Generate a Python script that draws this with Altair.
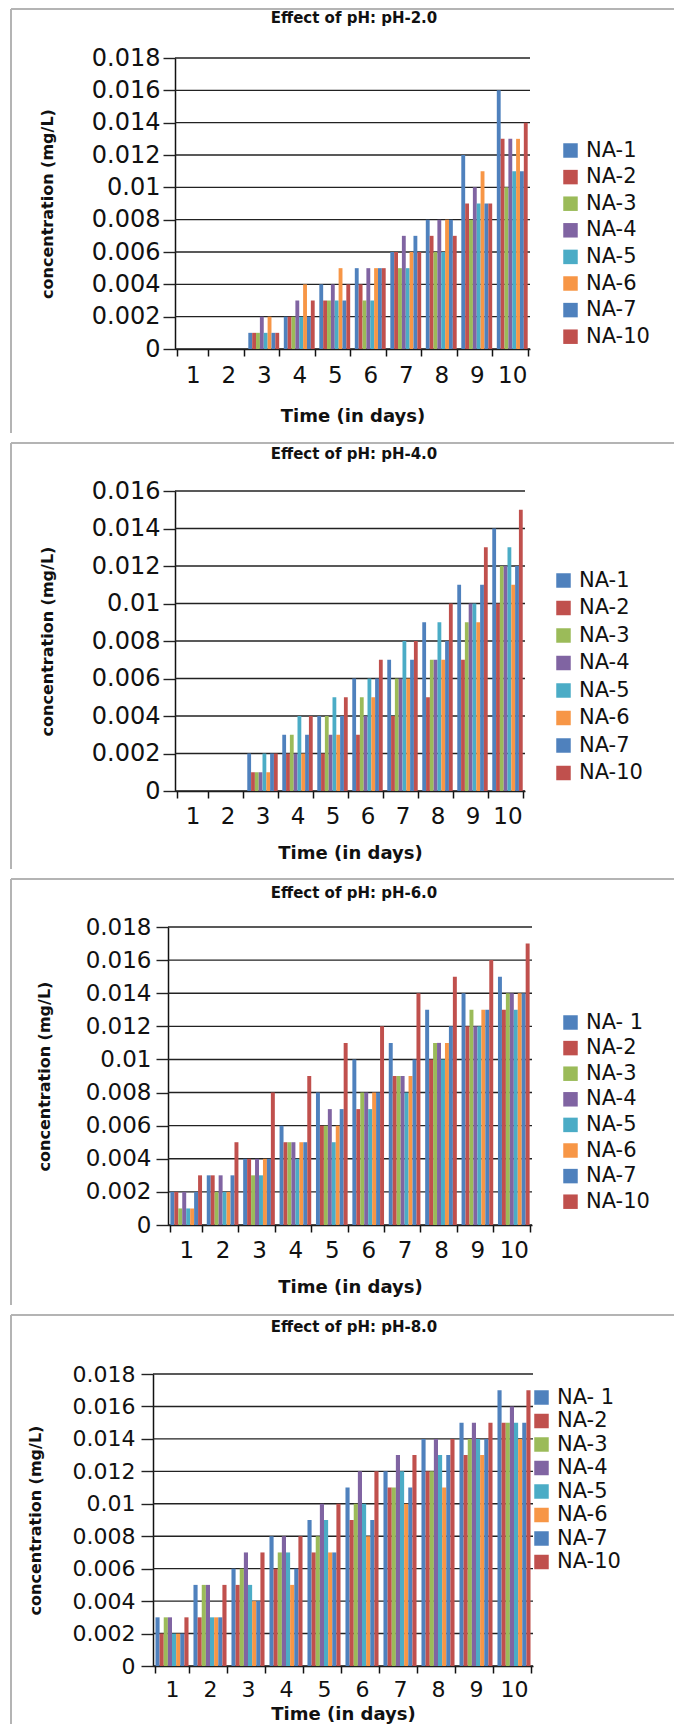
import altair as alt
import pandas as pd

days = [1, 2, 3, 4, 5, 6, 7, 8, 9, 10]
series_a = ["NA-1", "NA-2", "NA-3", "NA-4", "NA-5", "NA-6", "NA-7", "NA-10"]
series_b = ["NA- 1", "NA-2", "NA-3", "NA-4", "NA-5", "NA-6", "NA-7", "NA-10"]
colors = ["#4F81BD", "#C0504D", "#9BBB59", "#8064A2", "#4BACC6", "#F79646", "#4F81BD", "#C0504D"]

# pH-2.0 : one list per series, values for days 1..10
ph2 = [
    [0, 0, 0.001, 0.002, 0.004, 0.005, 0.006, 0.008, 0.012, 0.016],
    [0, 0, 0.001, 0.002, 0.003, 0.004, 0.006, 0.007, 0.009, 0.013],
    [0, 0, 0.001, 0.002, 0.003, 0.003, 0.005, 0.006, 0.008, 0.010],
    [0, 0, 0.002, 0.003, 0.004, 0.005, 0.007, 0.008, 0.010, 0.013],
    [0, 0, 0.001, 0.002, 0.003, 0.003, 0.005, 0.006, 0.009, 0.011],
    [0, 0, 0.002, 0.004, 0.005, 0.005, 0.006, 0.008, 0.011, 0.013],
    [0, 0, 0.001, 0.002, 0.003, 0.005, 0.007, 0.008, 0.009, 0.011],
    [0, 0, 0.001, 0.003, 0.004, 0.005, 0.006, 0.007, 0.009, 0.014],
]
# pH-4.0
ph4 = [
    [0, 0, 0.002, 0.003, 0.004, 0.006, 0.007, 0.009, 0.011, 0.014],
    [0, 0, 0.001, 0.002, 0.002, 0.003, 0.004, 0.005, 0.007, 0.010],
    [0, 0, 0.001, 0.003, 0.004, 0.005, 0.006, 0.007, 0.009, 0.012],
    [0, 0, 0.001, 0.002, 0.003, 0.004, 0.006, 0.007, 0.010, 0.012],
    [0, 0, 0.002, 0.004, 0.005, 0.006, 0.008, 0.009, 0.010, 0.013],
    [0, 0, 0.001, 0.002, 0.003, 0.005, 0.006, 0.007, 0.009, 0.011],
    [0, 0, 0.002, 0.003, 0.004, 0.006, 0.007, 0.008, 0.011, 0.012],
    [0, 0, 0.002, 0.004, 0.005, 0.007, 0.008, 0.010, 0.013, 0.015],
]
# pH-6.0
ph6 = [
    [0.002, 0.003, 0.004, 0.006, 0.008, 0.010, 0.011, 0.013, 0.014, 0.015],
    [0.002, 0.003, 0.004, 0.005, 0.006, 0.007, 0.009, 0.010, 0.012, 0.013],
    [0.001, 0.002, 0.003, 0.005, 0.006, 0.008, 0.009, 0.011, 0.013, 0.014],
    [0.002, 0.003, 0.004, 0.005, 0.007, 0.008, 0.009, 0.011, 0.012, 0.014],
    [0.001, 0.002, 0.003, 0.004, 0.005, 0.007, 0.008, 0.010, 0.012, 0.013],
    [0.001, 0.002, 0.004, 0.005, 0.006, 0.008, 0.009, 0.011, 0.013, 0.014],
    [0.002, 0.003, 0.004, 0.005, 0.007, 0.008, 0.010, 0.012, 0.013, 0.014],
    [0.003, 0.005, 0.008, 0.009, 0.011, 0.012, 0.014, 0.015, 0.016, 0.017],
]
# pH-8.0
ph8 = [
    [0.003, 0.005, 0.006, 0.008, 0.009, 0.011, 0.012, 0.014, 0.015, 0.017],
    [0.002, 0.003, 0.005, 0.006, 0.007, 0.009, 0.011, 0.012, 0.013, 0.015],
    [0.003, 0.005, 0.006, 0.007, 0.008, 0.010, 0.011, 0.012, 0.014, 0.015],
    [0.003, 0.005, 0.007, 0.008, 0.010, 0.012, 0.013, 0.014, 0.015, 0.016],
    [0.002, 0.003, 0.005, 0.007, 0.009, 0.010, 0.012, 0.013, 0.014, 0.015],
    [0.002, 0.003, 0.004, 0.005, 0.007, 0.008, 0.010, 0.011, 0.013, 0.014],
    [0.002, 0.003, 0.004, 0.006, 0.007, 0.009, 0.011, 0.013, 0.014, 0.015],
    [0.003, 0.005, 0.007, 0.008, 0.010, 0.012, 0.013, 0.014, 0.015, 0.017],
]

titles = ["Effect of pH: pH-2.0", "Effect of pH: pH-4.0", "Effect of pH: pH-6.0", "Effect of pH: pH-8.0"]
y_max = [0.018, 0.016, 0.018, 0.018]
y_ticks_18 = [0, 0.002, 0.004, 0.006, 0.008, 0.01, 0.012, 0.014, 0.016, 0.018]
y_ticks_16 = [0, 0.002, 0.004, 0.006, 0.008, 0.01, 0.012, 0.014, 0.016]

FRAME = "#b4b4b4"
FONT = "DejaVu Sans"
GRID = "#222"


def panel(title, series, values, ymax, yticks, g):
    rows = []
    for s, vals in zip(series, values):
        for d, v in zip(days, vals):
            rows.append({"day": d, "series": s, "value": v})
    df = pd.DataFrame(rows)
    one = pd.DataFrame({"t": [title]})
    grid_df = pd.DataFrame({"value": yticks})
    x0, x1 = g["dx"], g["right"]

    y_scale = alt.Scale(domain=[0, ymax], nice=False, zero=True)
    y_axis = alt.Axis(
        title="concentration (mg/L)", values=yticks, format="~f",
        grid=False, offset=-x0,
        labelFont=FONT, labelFontSize=g["yl"], labelColor="#111",
        labelPadding=g["ylp"], tickSize=12, tickColor=GRID, tickWidth=1.4,
        domainColor="#111", domainWidth=1.5,
        titleFont=FONT, titleFontWeight="bold", titleFontSize=16,
        titleColor="#111", titlePadding=g["ytp"],
    )

    bars = alt.Chart(df).mark_bar(stroke=None).encode(
        x=alt.X(
            "day:O", sort=days,
            scale=alt.Scale(paddingInner=0.13, paddingOuter=0.065, range=[x0, x1]),
            axis=alt.Axis(
                title="Time (in days)", labelAngle=0, tickBand="extent",
                labelFont=FONT, labelFontSize=g["xl"], labelColor="#111",
                labelPadding=g["xlp"], tickSize=7, tickColor="#111", tickWidth=1.5,
                domainColor="#111", domainWidth=1.5,
                titleFont=FONT, titleFontWeight="bold", titleFontSize=18,
                titleColor="#111", titlePadding=g["xtp"],
            ),
        ),
        xOffset=alt.XOffset("series:N", sort=series,
                            scale=alt.Scale(paddingInner=0, paddingOuter=0)),
        y=alt.Y("value:Q", scale=y_scale, axis=y_axis),
        color=alt.Color(
            "series:N", sort=series,
            scale=alt.Scale(domain=series, range=colors),
            legend=alt.Legend(
                title=None, orient="none", legendX=g["lx"], legendY=g["ly"],
                symbolType="square", symbolSize=210, symbolStrokeWidth=0,
                symbolOpacity=1, labelFont=FONT, labelFontSize=21,
                labelColor="#111", labelOffset=5, rowPadding=g["lrp"], padding=0,
            ),
        ),
    )

    grid = alt.Chart(grid_df).mark_rule(color=GRID, strokeWidth=1.4).encode(
        y=alt.Y("value:Q", scale=y_scale, axis=y_axis),
        x=alt.value(x0), x2=alt.value(x1),
    )
    top_line = alt.Chart(one).mark_rule(color=FRAME, strokeWidth=2).encode(
        x=alt.value(g["fl"]), x2=alt.value(g["fr"]), y=alt.value(g["ft"])
    )
    left_line = alt.Chart(one).mark_rule(color=FRAME, strokeWidth=2).encode(
        x=alt.value(g["fl"]), y=alt.value(g["ft"]), y2=alt.value(g["fb"])
    )
    title_txt = alt.Chart(one).mark_text(
        font=FONT, fontWeight="bold", fontSize=15, color="#111", baseline="middle"
    ).encode(text="t:N", x=alt.value(g["tx"]), y=alt.value(g["ty"]))

    return alt.layer(top_line, left_line, title_txt, grid, bars).properties(
        width=x1, height=g["h"]
    )


# positions relative to a common panel origin (absolute x = 175)
geoms = [
    dict(dx=0, right=355, h=291, fl=-164, fr=499, ft=-49, fb=375, tx=179, ty=-40,
         lx=385, ly=82, lrp=4.6, xl=23, xlp=8, xtp=20, yl=24, ylp=3, ytp=36),
    dict(dx=0, right=350, h=300, fl=-164, fr=499, ft=-48, fb=378, tx=179, ty=-37,
         lx=378, ly=79, lrp=5.5, xl=23, xlp=7, xtp=16, yl=24, ylp=3, ytp=36),
    dict(dx=-7, right=357, h=298, fl=-164, fr=499, ft=-48, fb=378, tx=179, ty=-34,
         lx=385, ly=85, lrp=3.6, xl=23, xlp=7, xtp=16, yl=23, ylp=5, ytp=33),
    dict(dx=-22, right=358, h=292, fl=-164, fr=499, ft=-59, fb=350, tx=179, ty=-47,
         lx=356, ly=13, lrp=1.5, xl=22, xlp=6, xtp=5, yl=22, ylp=6, ytp=29),
]

panels = [
    panel(titles[0], series_a, ph2, y_max[0], y_ticks_18, geoms[0]),
    panel(titles[1], series_a, ph4, y_max[1], y_ticks_16, geoms[1]),
    panel(titles[2], series_b, ph6, y_max[2], y_ticks_18, geoms[2]),
    panel(titles[3], series_b, ph8, y_max[3], y_ticks_18, geoms[3]),
]

chart = alt.vconcat(*panels, spacing=8).resolve_scale(
    color="independent", x="independent", y="independent", xOffset="independent"
).properties(
    padding={"left": 2, "top": 0, "right": 0, "bottom": 0}
).configure_view(stroke=None)

chart.save("out.html", embed_options={"renderer": "svg", "actions": False})
